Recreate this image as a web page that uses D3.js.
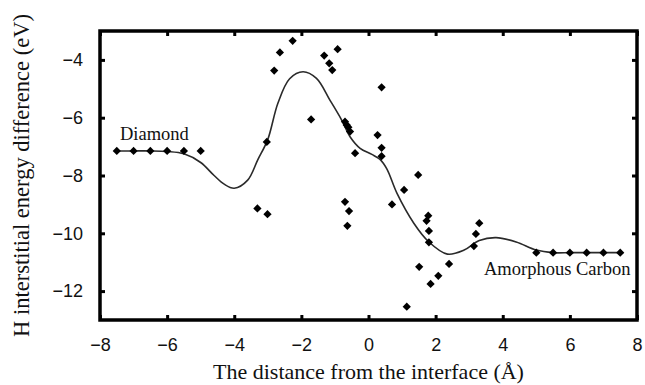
<!DOCTYPE html>
<html>
<head>
<meta charset="utf-8">
<script src="https://cdn.jsdelivr.net/npm/d3@7"></script>
<style>
  body { margin: 0; background: #fff; }
  svg { display: block; }
</style>
</head>
<body>
<div id="chart"></div>
<script>
const W = 645, H = 385;
const margin = { top: 31, right: 8, bottom: 65, left: 100 };
const width = 637 - margin.left;
const height = 320 - margin.top;

// scatter points (distance, energy)
const ptX = [-7.5, -7.0, -6.5, -6.0, -5.5, -5.0,
  -3.31, -3.01, -3.03, -2.81, -2.64, -2.26, -1.71, -1.32, -1.17, -1.08, -0.92,
  -0.70, -0.65, -0.60, -0.55, -0.70, -0.58, -0.63, -0.40,
  0.27, 0.39, 0.39, 0.39, 0.70, 1.06, 1.48, 1.14, 1.51,
  1.78, 1.73, 1.80, 1.80, 1.85, 2.08, 2.40, 3.14, 3.20, 3.30,
  5.0, 5.5, 6.0, 6.5, 7.0, 7.5];
const ptY = [-7.15, -7.15, -7.15, -7.15, -7.15, -7.15,
  -9.14, -9.34, -6.84, -4.37, -3.74, -3.34, -6.06, -3.85, -4.12, -4.35, -3.63,
  -6.14, -6.25, -6.33, -6.48, -8.91, -9.23, -9.74, -7.23,
  -6.60, -4.95, -7.04, -7.33, -9.00, -8.50, -7.98, -12.54, -11.16,
  -9.39, -9.57, -9.92, -10.31, -11.75, -11.47, -11.06, -10.44, -10.02, -9.65,
  -10.67, -10.67, -10.67, -10.67, -10.67, -10.67];

// fitted curve
const curveX = [-7.5, -7.0, -6.5, -6.0, -5.5, -5.0, -4.6, -4.3, -4.0, -3.6, -3.3, -3.0, -2.7,
  -2.35, -1.95, -1.55, -1.15, -0.8, -0.55, -0.25, 0.1, 0.35, 0.55, 0.85, 1.35, 1.8,
  2.35, 2.85, 3.3, 3.8, 4.4, 5.0, 5.5, 6.0, 6.5, 7.0, 7.5];
const curveY = [-7.15, -7.15, -7.15, -7.17, -7.25, -7.55, -8.0, -8.3, -8.44, -8.16, -7.46, -6.75, -5.5,
  -4.65, -4.41, -4.64, -5.39, -6.08, -6.66, -7.06, -7.27, -7.45, -7.78, -8.62, -9.65, -10.3,
  -10.72, -10.58, -10.25, -10.15, -10.3, -10.58, -10.67, -10.67, -10.67, -10.67, -10.67];

const xTicks = [-8, -6, -4, -2, 0, 2, 4, 6, 8];
const yTicks = [-12, -10, -8, -6, -4];

const svg = d3.select("#chart")
  .append("svg")
  .attr("width", W)
  .attr("height", H)
  .append("g")
  .attr("transform", `translate(${margin.left},${margin.top})`);

const x = d3.scaleLinear().domain([-8, 8]).range([0, width]);
const y = d3.scaleLinear().domain([-13, -3]).range([height, 0]);

const tickFont = "'Liberation Sans', Arial, sans-serif";
const serif = "'Liberation Serif', 'Times New Roman', serif";

function styleAxis(g) {
  g.select(".domain").remove();
  g.selectAll(".tick line").attr("stroke", "#000").attr("stroke-width", 3);
  g.selectAll(".tick text")
    .attr("fill", "#111")
    .style("font-family", tickFont)
    .style("font-size", "18px");
}

svg.append("g")
  .attr("transform", `translate(0,${height})`)
  .call(d3.axisBottom(x).tickValues(xTicks).tickSizeInner(-5).tickSizeOuter(0).tickPadding(18))
  .call(styleAxis);

svg.append("g")
  .call(d3.axisTop(x).tickValues(xTicks).tickSizeInner(-5).tickSizeOuter(0).tickFormat(""))
  .call(styleAxis);

svg.append("g")
  .call(d3.axisLeft(y).tickValues(yTicks).tickSizeInner(-5).tickSizeOuter(0).tickPadding(17))
  .call(styleAxis);

svg.append("g")
  .attr("transform", `translate(${width},0)`)
  .call(d3.axisRight(y).tickValues(yTicks).tickSizeInner(-5).tickSizeOuter(0).tickFormat(""))
  .call(styleAxis);

// frame
svg.append("rect")
  .attr("x", 0).attr("y", 0)
  .attr("width", width).attr("height", height)
  .attr("fill", "none")
  .attr("stroke", "#000")
  .attr("stroke-width", 3.5);

// curve
const curvePts = curveX.map((d, i) => [d, curveY[i]]);
svg.append("path")
  .datum(curvePts)
  .attr("fill", "none")
  .attr("stroke", "#2a2a2a")
  .attr("stroke-width", 1.6)
  .attr("d", d3.line().x(d => x(d[0])).y(d => y(d[1])).curve(d3.curveCatmullRom.alpha(0.5)));

// points
const pts = ptX.map((d, i) => [d, ptY[i]]);
svg.append("g")
  .selectAll("path")
  .data(pts)
  .join("path")
  .attr("transform", d => `translate(${x(d[0])},${y(d[1])}) rotate(45)`)
  .attr("d", d3.symbol().type(d3.symbolSquare).size(34))
  .attr("fill", "#000");

// annotations
svg.append("text")
  .attr("x", 120 - margin.left).attr("y", 139.5 - margin.top)
  .text("Diamond")
  .style("font-family", serif).style("font-size", "18.5px").attr("fill", "#111");

svg.append("text")
  .attr("x", 484 - margin.left).attr("y", 275 - margin.top)
  .text("Amorphous Carbon")
  .style("font-family", serif).style("font-size", "18.5px").attr("fill", "#111");

// axis titles
svg.append("text")
  .attr("x", width / 2).attr("y", 379 - margin.top)
  .attr("text-anchor", "middle")
  .text("The distance from the interface (Å)")
  .style("font-family", serif).style("font-size", "22px").attr("fill", "#111");

svg.append("text")
  .attr("transform", `translate(${29 - margin.left},${height / 2}) rotate(-90)`)
  .attr("text-anchor", "middle")
  .text("H interstitial energy difference (eV)")
  .style("font-family", serif).style("font-size", "22.5px").attr("fill", "#111");
</script>
</body>
</html>
